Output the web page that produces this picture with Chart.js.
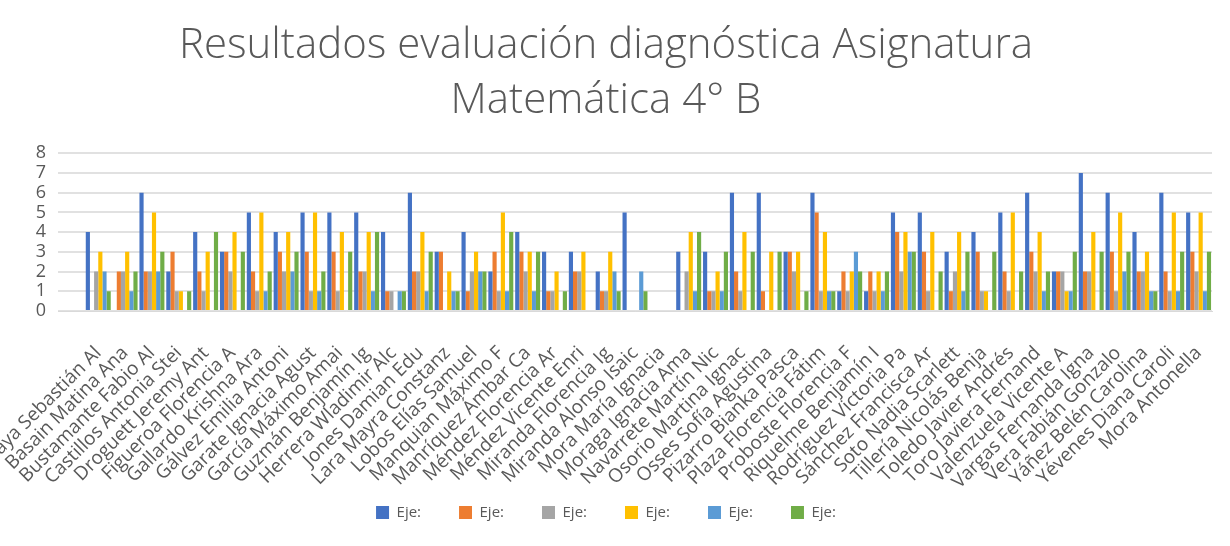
<!DOCTYPE html>
<html>
<head>
<meta charset="utf-8">
<script src="https://cdn.jsdelivr.net/npm/chart.js@4/dist/chart.umd.min.js"></script>
<style>
html,body{margin:0;padding:0;background:#fff;}
#wrap{position:relative;width:1230px;height:546px;}
</style>
</head>
<body>
<div id="wrap"><canvas id="c" width="1230" height="546"></canvas></div>
<script>
const titleLines = ["Resultados evaluación diagnóstica Asignatura", "Matemática 4° B"];
const categories = ["", "Araya Sebastián Al", "Basain Matina Ana", "Bustamante Fabio Al", "Castillos Antonia Stei", "Droguett Jeremy Ant", "Figueroa Florencia A", "Gallardo Krishna Ara", "Gálvez Emilia Antoni", "Garate Ignacia Agust", "García Máximo Amai", "Guzmán Benjamín Ig", "Herrera Wladimir Alc", "Jones Damian Edu", "Lara Mayra Constanz", "Lobos Elías Samuel", "Manquian Máximo F", "Manríquez Ámbar Ca", "Méndez Florencia Ar", "Méndez Vicente Enri", "Miranda Florencia Ig", "Miranda Alonso Isaic", "Mora María Ignacia", "Moraga Ignacia Ama", "Navarrete Martín Nic", "Osorio Martina Ignac", "Osses Sofía Agustina", "Pizarro Bianka Pasca", "Plaza Florencia Fátim", "Proboste Florencia F", "Riquelme Benjamín I", "Rodríguez Victoria Pa", "Sánchez Francisca Ar", "Soto Nadia Scarlett", "Tillería Nicolás Benja", "Toledo Javier Andrés", "Toro Javiera Fernand", "Valenzuela Vicente A", "Vargas Fernanda Igna", "Vera Fabián Gonzalo", "Yáñez Belén Carolina", "Yévenes Diana Caroli", "Mora Antonella"];
const seriesNames = ["Eje:", "Eje:", "Eje:", "Eje:", "Eje:", "Eje:"];
const serie1 = [0,4,0,6,2,4,3,5,4,5,5,5,4,6,3,4,2,4,3,3,2,5,0,3,3,6,6,3,6,1,1,5,5,3,4,5,6,2,7,6,4,6,5];
const serie2 = [0,0,2,2,3,2,3,2,3,3,3,2,1,2,3,1,3,3,1,2,1,0,0,0,1,2,1,3,5,2,2,4,3,1,3,2,3,2,2,3,2,2,3];
const serie3 = [0,2,2,2,1,1,2,1,2,1,1,2,1,2,0,2,1,2,1,2,1,0,0,2,1,1,0,2,1,1,1,2,1,2,1,1,2,2,2,1,2,1,2];
const serie4 = [0,3,3,5,1,3,4,5,4,5,4,4,0,4,2,3,5,3,2,3,3,0,0,4,2,4,3,3,4,2,2,4,4,4,1,5,4,1,4,5,3,5,5];
const serie5 = [0,2,1,2,0,0,0,1,2,1,0,1,1,1,1,2,1,1,0,0,2,2,0,1,1,0,0,0,1,3,1,3,0,1,0,0,1,1,0,2,1,1,1];
const serie6 = [0,1,2,3,1,4,3,2,3,2,3,4,1,3,1,2,4,3,1,0,1,1,0,4,3,3,3,1,1,2,2,3,2,3,3,2,2,3,3,3,1,3,3];
const yTicks = [0,1,2,3,4,5,6,7,8];
const colors = ["#4472C4", "#ED7D31", "#A5A5A5", "#FFC000", "#5B9BD5", "#70AD47"];

const allSeries = [serie1, serie2, serie3, serie4, serie5, serie6];
const datasets = allSeries.map((d, i) => ({
  label: seriesNames[i],
  data: d,
  backgroundColor: colors[i],
  borderWidth: 0,
  barPercentage: 1.0,
  categoryPercentage: 0.93
}));

// let the rotated category labels run below the axis box (into the legend's empty padding)
const noLabelClip = {
  id: 'noLabelClip',
  beforeDraw(chart) {
    const x = chart.scales.x;
    if (x) x._computeLabelArea = () => undefined;
  }
};

const txt = "#595959";
new Chart(document.getElementById('c'), {
  type: 'bar',
  data: { labels: categories, datasets },
  plugins: [noLabelClip],
  options: {
    responsive: false,
    animation: false,
    layout: { padding: { left: 0, right: 18, top: 0, bottom: 16 } },
    plugins: {
      title: {
        display: true,
        text: titleLines,
        color: txt,
        font: { family: "'Open Sans', sans-serif", size: 42, weight: '300', lineHeight: 1.3 },
        padding: { top: 19, bottom: 25 }
      },
      legend: {
        position: 'bottom',
        labels: {
          color: txt,
          font: { family: "'Open Sans', sans-serif", size: 15 },
          boxWidth: 13, boxHeight: 13,
          padding: 38
        }
      },
      tooltip: { enabled: false }
    },
    scales: {
      x: {
        grid: { display: false },
        border: { display: true, color: '#d9d9d9', width: 1 },
        ticks: {
          color: txt,
          autoSkip: false,
          minRotation: 45, maxRotation: 45,
          padding: 23,
          font: { family: "'Open Sans', sans-serif", size: 19 }
        },
        afterFit: (s) => { s.height = 156; s.paddingLeft = 0; s.paddingRight = 0; }
      },
      y: {
        min: 0, max: 8,
        afterBuildTicks: (s) => { s.ticks = yTicks.map(v => ({ value: v })); },
        grid: { color: '#e1e1e1', lineWidth: 2, drawTicks: false },
        border: { display: false },
        ticks: {
          color: txt,
          padding: 12,
          autoSkip: false,
          stepSize: 1,
          font: { family: "'Open Sans', sans-serif", size: 18 }
        },
        afterFit: (s) => { s.width = 58; s.paddingTop = 0; s.paddingBottom = 0; }
      }
    }
  }
});
</script>
</body>
</html>
